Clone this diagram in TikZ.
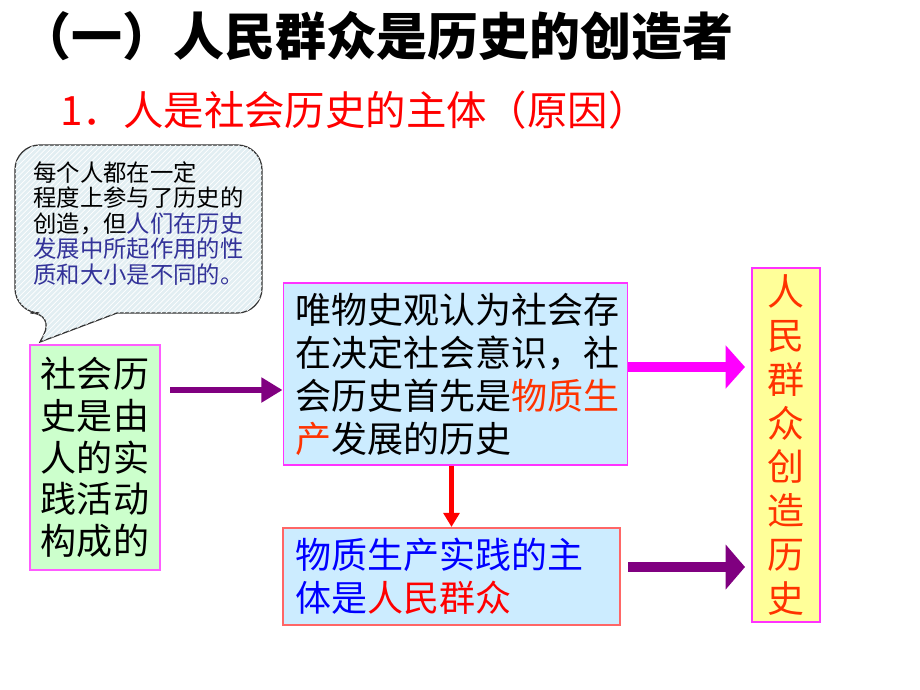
\documentclass[tikz,border=0pt]{standalone}
\usepackage{fontspec}
\setmainfont{Noto Sans CJK SC}
\usetikzlibrary{arrows.meta,patterns}

\definecolor{boxblue}{RGB}{204,236,255}
\definecolor{boxgreen}{RGB}{204,255,204}
\definecolor{boxyellow}{RGB}{255,255,153}
\definecolor{bubblefill}{RGB}{226,238,242}
\definecolor{bubbletext}{RGB}{51,51,153}
\definecolor{orangered}{RGB}{255,51,0}
\definecolor{rim}{RGB}{255,51,255}
\definecolor{rimred}{RGB}{255,102,102}
\definecolor{deeppurple}{RGB}{128,0,128}
\definecolor{brightpink}{RGB}{255,0,255}

\begin{document}
\begin{tikzpicture}[x=0.02cm, y=-0.02cm,
    box/.style={draw, inner sep=0pt, font=\fontsize{20.5}{24.5}\selectfont},
    fatarrow/.style={line width=#1}]

\useasboundingbox (0,0) rectangle (920,690);

% headings
\node (title) at (377,36) {\bfseries\fontsize{29}{30}\selectfont （一）人民群众是历史的创造者};
\node [anchor=west, inner sep=0pt, text=red] (sub) at (60,110)
    {\fontsize{23}{24}\selectfont 1．人是社会历史的主体（原因）};

% speech bubble
\draw [draw=black!80, line width=0.7pt, fill=bubblefill,
       postaction={pattern=north east lines, pattern color=white}]
    (55,313) -- (40,342) -- (117,313) [rounded corners=14pt]
    -- (262,313) -- (262,145) -- (15,145) -- (15,313) -- cycle;
\node [anchor=west, inner sep=0pt, align=left, font=\fontsize{13.3}{14.5}\selectfont] (note) at (33,223.5)
    {每个人都在一定\\程度上参与了历史的\\创造，但\textcolor{bubbletext}{人们在历史}\\
     \textcolor{bubbletext}{发展中所起作用的性}\\\textcolor{bubbletext}{质和大小是不同的。}};

% boxes
\node [box, draw=rim!80, line width=1.2pt, fill=boxgreen, minimum width=2.6cm, minimum height=4.5cm,
       align=center, font=\fontsize{20.5}{23.8}\selectfont] (green) at (95,457.5)
    {社会历\\史是由\\人的实\\践活动\\构成的};

\node [box, draw=rim, line width=0.6pt, fill=boxblue, minimum width=6.9cm, minimum height=3.64cm,
       text width=6.42cm, align=left] (box1) at (455.5,374)
    {唯物史观认为社会存\\在决定社会意识，社\\会历史首先是\textcolor{orangered}{物质生}\\\textcolor{orangered}{产}发展的历史};

\node [box, draw=rimred, line width=1.2pt, fill=boxblue, minimum width=6.74cm, minimum height=1.94cm,
       text width=6.26cm, align=left, text=blue] (box2) at (451.5,576.5)
    {物质生产实践的主\\体是\textcolor{red}{人民群众}};

\node [box, draw=rim, line width=0.8pt, fill=boxyellow, minimum width=1.36cm, minimum height=7.08cm,
       align=center, text=orangered, font=\fontsize{21}{25}\selectfont] (result) at (786,445)
    {人\\民\\群\\众\\创\\造\\历\\史};

% arrows
\coordinate (a1) at (170,390);
\coordinate (a2) at (745,367);
\coordinate (a3s) at (628,567);
\coordinate (a3) at (745,567);

\draw [fatarrow=3.4pt, deeppurple, -{Triangle[length=12pt,width=13.6pt]}] (a1) -- (a1 -| box1.west);
\draw [fatarrow=5.7pt, brightpink, -{Triangle[length=11pt,width=24pt]}] (a2 -| box1.east) -- (a2);
\draw [fatarrow=5.7pt, deeppurple, -{Triangle[length=11pt,width=25pt]}] (a3s) -- (a3);
\draw [fatarrow=3.4pt, red, -{Triangle[length=8pt,width=9pt]}] (box2.north |- box1.south) -- (box2.north);

\end{tikzpicture}
\end{document}
